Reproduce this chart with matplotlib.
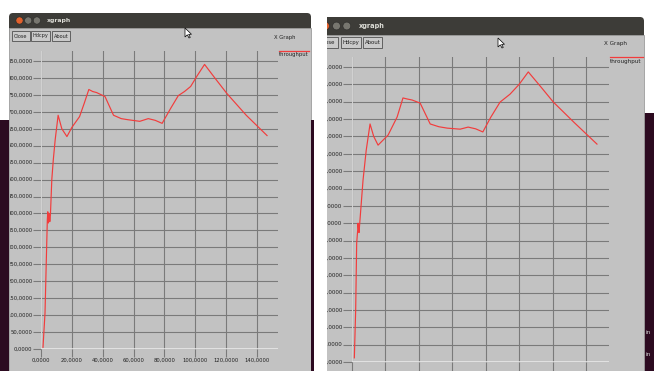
import numpy as np
import matplotlib
matplotlib.use("Agg")
import matplotlib.pyplot as plt
from matplotlib.patches import Rectangle, FancyBboxPatch, Circle, Polygon
from matplotlib.transforms import Bbox, TransformedBbox, blended_transform_factory

W, H = 654, 371

# throughput trace, first run (left xgraph window)
t1 = [1.3, 2.0, 2.6, 3.4, 4.1, 4.4, 4.8, 5.3, 5.7, 6.1, 7.0, 8.0, 9.2, 11.1,
      13.5, 16.8, 20.0, 25.0, 28.0, 31.0, 33.5, 36.0, 41.5, 47.0, 52.0, 56.0,
      64.0, 69.5, 74.0, 78.5, 84.0, 89.0, 93.0, 97.0, 101.0, 106.0, 113.0,
      120.5, 133.0, 146.5]
v1 = [5, 60, 106, 254, 381, 405, 372, 400, 376, 395, 500, 560, 618, 690,
      650, 627, 654, 686, 725, 766, 760, 757, 745, 690, 680, 677,
      672, 680, 675, 666, 710, 748, 760, 775, 805, 840, 798,
      754, 690, 630]

# throughput trace, second run (right xgraph window)
t2 = [1.4, 2.2, 2.8, 3.4, 3.6, 3.9, 4.2, 4.5, 6.6, 8.5, 10.8, 13.0, 15.6,
      21.6, 27.0, 30.5, 33.0, 36.0, 40.8, 46.8, 52.0, 57.0, 64.7, 69.5,
      74.0, 78.3, 83.0, 88.6, 94.6, 100.0, 105.5, 113.0, 120.5, 133.0, 146.6]
v2 = [12, 150, 343, 380, 400, 385, 373, 392, 524, 610, 686, 650, 625,
      654, 706, 761, 758, 755, 746, 686, 678, 674, 671, 677,
      672, 663, 705, 749, 772, 800, 836, 793, 749, 690, 628]

yticks = list(range(0, 851, 50))
xticks = list(range(0, 141, 20))
series_name = "throughput"
buttons = ["Close", "Hdcpy", "About"]

BG = "#c2c2c2"
GRID = "#7a7a7a"
RED = "#f23c3c"
BAR = "#3d3c38"
TERM = "#2c0a20"
INK = "#222222"


def fmt(v):
    return "%d,0000" % v


fig = plt.figure(figsize=(W / 100, H / 100), dpi=100)
fig.patch.set_facecolor("white")
bg = fig.add_axes([0, 0, 1, 1])
bg.set_xlim(0, W)
bg.set_ylim(H, 0)
bg.axis("off")


def px_axes(x0, y0, x1, y1):
    return fig.add_axes([x0 / W, 1 - y1 / H, (x1 - x0) / W, (y1 - y0) / H])


def window(x0, x1, top, bar, s, btn_x, btn_y, circ_x, title_x):
    bg.add_patch(FancyBboxPatch((x0, top), x1 - x0, (bar - top) * 2,
                                boxstyle="round,pad=0,rounding_size=4",
                                fc=BAR, ec="none", zorder=1))
    bg.add_patch(Rectangle((x0, bar), x1 - x0, H - bar + 5, fc=BG,
                           ec="#9c9c9c", lw=0.6, zorder=2))
    cy = (top + bar) / 2
    for i, cx in enumerate(circ_x):
        bg.add_patch(Circle((cx, cy), 3.6 * s, fc="#e2612d" if i == 0 else "#77766f",
                            ec="#2a2a28", lw=0.4, zorder=3))
    bg.text(title_x, cy, "xgraph", color="#dcdcd6", fontsize=4.4 * s,
            fontweight="bold", va="center", ha="left", zorder=3)
    for name, (bx0, bx1) in zip(buttons, btn_x):
        bg.add_patch(Rectangle((bx0, btn_y[0]), bx1 - bx0, btn_y[1] - btn_y[0],
                               fc="#cacaca", ec="#505050", lw=0.6, zorder=3))
        bg.text((bx0 + bx1) / 2, (btn_y[0] + btn_y[1]) / 2, name, fontsize=3.6 * s,
                color=INK, ha="center", va="center", zorder=4)


def panel(box, t, v, s, clip_x, tick_px, xmax, ymax, show_x=True):
    x0, y0, x1, y1 = box
    ax = px_axes(x0, y0, x1, y1)
    ax.set_facecolor("none")
    ax.set_xlim(0, xmax)
    ax.set_ylim(0, ymax)
    for sp in ax.spines.values():
        sp.set_visible(False)
    ax.set_xticks(xticks)
    ax.set_yticks(yticks)
    ax.grid(True, color=GRID, lw=0.8)
    ax.tick_params(direction="out", length=tick_px * 0.72, width=0.8, color=GRID,
                   labelsize=3.8 * s, labelcolor=INK, pad=0.8, labelbottom=show_x)
    ax.set_xticklabels([fmt(x) for x in xticks])
    ax.set_yticklabels([])
    ax.axhline(0, color="#ececec", lw=1.1, zorder=3)
    ax.axvline(0, color="#ececec", lw=1.1, zorder=3)
    ax.plot(t, v, color=RED, lw=0.85, zorder=4)
    # y labels, cut by the window edge like in the screenshot
    tr = blended_transform_factory(fig.transFigure, ax.transData)
    clip = TransformedBbox(Bbox.from_extents(clip_x / W, 0, 1, 1), fig.transFigure)
    for yv in yticks:
        txt = fig.text((x0 - tick_px - 0.5) / W, yv, fmt(yv), transform=tr,
                       ha="right", va="center", fontsize=3.8 * s, color=INK)
        txt.set_clip_box(clip)
        txt.set_clip_on(True)
    return ax


def legend(xg, yg, lx0, lx1, ly, s):
    bg.text(xg, yg, "X Graph", fontsize=3.8 * s, color=INK, ha="left", va="center", zorder=5)
    bg.plot([lx0, lx1], [ly, ly], color=RED, lw=0.9, zorder=5)
    bg.text(lx0, ly + 4 * s, series_name, fontsize=3.8 * s, color=INK,
            ha="left", va="center", zorder=5)


def cursor(x, y):
    bg.add_patch(Polygon([(x, y), (x, y + 9), (x + 2.3, y + 6.8), (x + 4, y + 10),
                          (x + 5.3, y + 9.4), (x + 3.6, y + 6.3), (x + 6.5, y + 6.3)],
                         closed=True, fc="white", ec="black", lw=0.5, zorder=6))


# surroundings of the screenshot
bg.add_patch(Rectangle((0, 120), 9, H - 120, fc=TERM, ec="none", zorder=0.5))
bg.add_patch(Rectangle((643, 113), 12, H - 113, fc=TERM, ec="none", zorder=0.5))
for yy in (333, 354):
    bg.text(646, yy, "in", fontsize=4.2, color="#d8d8d8", va="center", zorder=1)

# left window
window(9, 311, 13, 28, 1.0, [(12, 30), (31, 50), (52, 70)], (31, 41),
       [19.5, 28.2, 36.9], 47)
legend(274, 37.5, 279, 309, 50.5, 1.0)
cursor(185, 28)

# right window (its left part is cut off)
window(314, 644, 17, 35, 1.08, [(318, 338), (341, 361), (363, 382)], (37, 47.5),
       [325.5, 336.5, 346.8], 359)
legend(604, 44, 610, 643, 57, 1.08)
cursor(498, 38)

# white gap between the two screenshots
bg.add_patch(Rectangle((311.5, 0), 15.5, H, fc="white", ec="none", zorder=8))
bg.add_patch(Rectangle((310.5, 120), 3, H - 120, fc=TERM, ec="none", zorder=9))

panel((41, 51, 278, 349), t1, v1, 1.0, 9.5, 8, 153.6, 879.6)
panel((352, 57, 609, 362), t2, v2, 1.08, 327, 9, 153.8, 879, show_x=False)

fig.savefig("out.png", dpi=100)
